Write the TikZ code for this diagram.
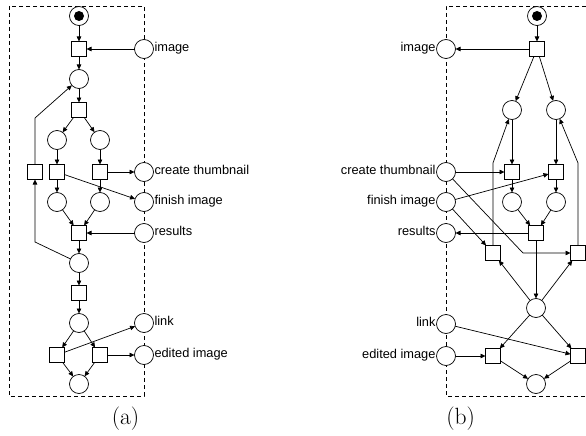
\documentclass[tikz,border=0pt]{standalone}
\usepackage{fontspec}
\setsansfont{Liberation Sans}
\usetikzlibrary{arrows.meta}

\begin{document}
\begin{tikzpicture}[x=1pt,y=-1pt,
  every node/.style={inner sep=0pt,outer sep=0pt},
  place/.style={circle,draw,fill=white,minimum size=19pt,line width=0.7pt},
  trans/.style={rectangle,draw,fill=white,minimum size=15pt,line width=0.7pt},
  token/.style={circle,fill=black,minimum size=10pt},
  lbl/.style={font=\sffamily\fontsize{12.8}{14}\selectfont},
  arc/.style={-{Triangle[length=5pt,width=4.5pt]},line width=0.7pt},
  iface/.style={dash pattern=on 4pt off 3pt,line width=0.7pt},
  caption/.style={font=\fontsize{23.5}{26}\selectfont}]
\useasboundingbox (0,0) rectangle (586,436);
\clip (0,0) rectangle (586,436);

% ---------- net (a) ----------
\draw[iface] (9,6) rectangle (144,396);

\node[place] (astart) at (79,16) {};
\node[token] (astok) at (astart) {};
\node[trans] (at1) at (79,49) {};
\node[place] (aimg) at (144,49) {};
\node[place] (ap1) at (79,79) {};
\node[trans] (at2) at (79,110) {};
\node[place] (ap2l) at (57,140) {};
\node[place] (ap2r) at (100,140) {};
\node[trans] (atl) at (35,172) {};
\node[trans] (ata) at (57,172) {};
\node[trans] (atb) at (100,172) {};
\node[place] (act) at (144,172) {};
\node[place] (ap3l) at (57,202) {};
\node[place] (ap3r) at (100,202) {};
\node[place] (afin) at (144,202) {};
\node[trans] (at3) at (79,233) {};
\node[place] (ares) at (144,233) {};
\node[place] (ap4) at (79,263) {};
\node[trans] (at4) at (79,293) {};
\node[place] (ap5) at (79,323) {};
\node[place] (alink) at (144,323) {};
\node[trans] (atc) at (57,355) {};
\node[trans] (atd) at (100,355) {};
\node[place] (aedit) at (144,355) {};
\node[place] (aend) at (79,384) {};
\coordinate (akA) at (35,242);
\coordinate (akB) at (35,118);

\node[lbl,anchor=mid west] (aimgL) at ([xshift=1pt]aimg.east) {image};
\node[lbl,anchor=mid west] (actL) at ([xshift=1pt]act.east) {create thumbnail};
\node[lbl,anchor=mid west] (afinL) at ([xshift=1pt]afin.east) {finish image};
\node[lbl,anchor=mid west] (aresL) at ([xshift=1pt]ares.east) {results};
\node[lbl,anchor=mid west] (alinkL) at ([xshift=1pt]alink.east) {link};
\node[lbl,anchor=mid west] (aeditL) at ([xshift=1pt]aedit.east) {edited image};

\draw[arc] (astart) -- (at1);
\draw[arc] (aimg) -- (at1);
\draw[arc] (at1) -- (ap1);
\draw[arc] (ap1) -- (at2);
\draw[arc] (at2) -- (ap2l);
\draw[arc] (at2) -- (ap2r);
\draw[arc] (ap2l) -- (ata);
\draw[arc] (ap2r) -- (atb);
\draw[arc] (ata) -- (ap3l);
\draw[arc] (atb) -- (ap3r);
\draw[arc] (atb) -- (act);
\draw[arc] (ata) -- (afin);
\draw[arc] (ap3l) -- (at3);
\draw[arc] (ap3r) -- (at3);
\draw[arc] (ares) -- (at3);
\draw[arc] (at3) -- (ap4);
\draw[arc] (ap4) -- (akA) -- (atl);
\draw[arc] (atl) -- (akB) -- (ap1);
\draw[arc] (ap4) -- (at4);
\draw[arc] (at4) -- (ap5);
\draw[arc] (ap5) -- (atc);
\draw[arc] (ap5) -- (atd);
\draw[arc] (atc) -- (alink);
\draw[arc] (atd) -- (aedit);
\draw[arc] (atc) -- (aend);
\draw[arc] (atd) -- (aend);

\node[caption] (capa) at (125.5,419) {(a)};

% ---------- net (b) ----------
\draw[iface] (600,6) -- (446,6) -- (446,396) -- (600,396);

\node[place] (bstart) at (537,16) {};
\node[token] (bstok) at (bstart) {};
\node[trans] (bt1) at (537,49) {};
\node[place] (bimg) at (446,49) {};
\node[place] (bp1l) at (512,110) {};
\node[place] (bp1r) at (556,110) {};
\node[trans] (bta) at (512,172) {};
\node[trans] (btb) at (556,172) {};
\node[place] (bct) at (446,172) {};
\node[place] (bfin) at (446,202) {};
\node[place] (bp2l) at (512,202) {};
\node[place] (bp2r) at (556,202) {};
\node[trans] (bt2) at (536,233) {};
\node[place] (bres) at (446,233) {};
\node[trans] (btl) at (493,253) {};
\node[trans] (btr) at (578,253) {};
\node[place] (bp3) at (536,308) {};
\node[place] (blink) at (446,324) {};
\node[place] (bedit) at (446,356) {};
\node[trans] (btc) at (493,356) {};
\node[trans] (btd) at (578,356) {};
\node[place] (bend) at (536,384) {};
\coordinate (bkC) at (523,253);
\coordinate (bkL) at (493,163);
\coordinate (bkR) at (578,163);

\node[lbl,anchor=mid east] (bimgL) at ([xshift=-1pt]bimg.west) {image};
\node[lbl,anchor=mid east] (bctL) at ([xshift=-1pt]bct.west) {create thumbnail};
\node[lbl,anchor=mid east] (bfinL) at ([xshift=-1pt]bfin.west) {finish image};
\node[lbl,anchor=mid east] (bresL) at ([xshift=-1pt]bres.west) {results};
\node[lbl,anchor=mid east] (blinkL) at ([xshift=-1pt]blink.west) {link};
\node[lbl,anchor=mid east] (beditL) at ([xshift=-1pt]bedit.west) {edited image};

\draw[arc] (bstart) -- (bt1);
\draw[arc] (bt1) -- (bimg);
\draw[arc] (bt1) -- (bp1l);
\draw[arc] (bt1) -- (bp1r);
\draw[arc] (bp1l) -- (bta);
\draw[arc] (bp1r) -- (btb);
\draw[arc] (bct) -- (bta);
\draw[arc] (bfin) -- (btb);
\draw[arc] (bta) -- (bp2l);
\draw[arc] (btb) -- (bp2r);
\draw[arc] (bp2l) -- (bt2);
\draw[arc] (bp2r) -- (bt2);
\draw[arc] (bt2) -- (bres);
\draw[arc] (bt2) -- (bp3);
\draw[arc] (bct) -- (bkC) -- (btr);
\draw[arc] (bfin) -- (btl);
\draw[arc] (btl) -- (bkL) -- (bp1l);
\draw[arc] (btr) -- (bkR) -- (bp1r);
\draw[arc] (bp3) -- (btl);
\draw[arc] (bp3) -- (btr);
\draw[arc] (bp3) -- (btc);
\draw[arc] (bp3) -- (btd);
\draw[arc] (bedit) -- (btc);
\draw[arc] (blink) -- (btd);
\draw[arc] (btc) -- (bend);
\draw[arc] (btd) -- (bend);

\node[caption] (capb) at (460.7,419) {(b)};
\end{tikzpicture}
\end{document}
